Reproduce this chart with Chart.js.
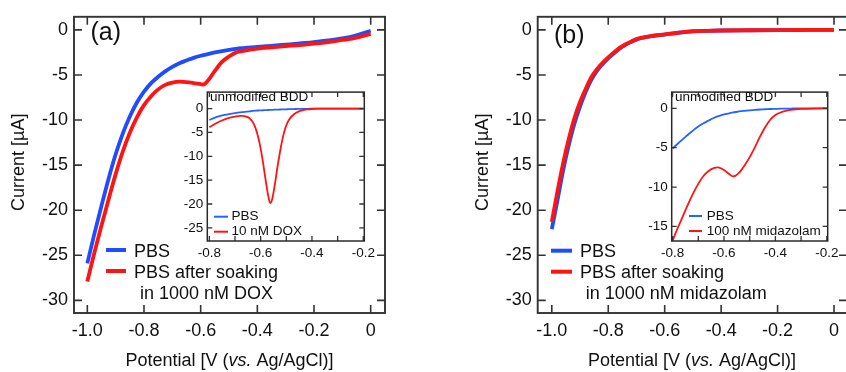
<!DOCTYPE html>
<html>
<head>
<meta charset="utf-8">
<script src="https://cdn.jsdelivr.net/npm/chart.js@4.4.1/dist/chart.umd.min.js"></script>
<style>
html,body{margin:0;padding:0;background:#fff;}
body{width:846px;height:372px;position:relative;overflow:hidden;}
canvas{position:absolute;}
</style>
</head>
<body>
<canvas id="mainA"></canvas>
<canvas id="mainB"></canvas>
<canvas id="insetA"></canvas>
<canvas id="insetB"></canvas>
<script>
// ---- data ----
// (a) main: PBS vs PBS after soaking in 1000 nM DOX
const potA=[-1.0,-0.975,-0.95,-0.925,-0.9,-0.875,-0.85,-0.825,-0.8,-0.775,-0.75,-0.725,-0.7,-0.675,-0.65,-0.625,-0.6,-0.59,-0.575,-0.55,-0.525,-0.5,-0.475,-0.45,-0.4,-0.35,-0.3,-0.25,-0.2,-0.15,-0.1,-0.05,0];
const pbsA=[-25.9,-22.6,-19.5,-16.5,-13.8,-11.5,-9.6,-8.05,-6.85,-5.9,-5.2,-4.6,-4.1,-3.7,-3.4,-3.1,-2.87,-2.8,-2.68,-2.5,-2.35,-2.22,-2.1,-2.02,-1.89,-1.77,-1.65,-1.5,-1.35,-1.17,-0.95,-0.6,-0.1];
const soakA=[-27.9,-24.7,-21.7,-18.8,-16.0,-13.5,-11.4,-9.7,-8.35,-7.35,-6.6,-6.1,-5.85,-5.75,-5.8,-5.9,-6.02,-6.06,-5.65,-4.55,-3.55,-2.95,-2.5,-2.32,-2.07,-1.93,-1.8,-1.68,-1.53,-1.35,-1.12,-0.85,-0.45];

// (a) inset: unmodified BDD, PBS vs 10 nM DOX
const potInA=[-0.8,-0.78,-0.76,-0.74,-0.72,-0.7,-0.68,-0.67,-0.66,-0.65,-0.64,-0.63,-0.62,-0.61,-0.6,-0.59,-0.58,-0.57,-0.563,-0.555,-0.545,-0.535,-0.525,-0.515,-0.505,-0.495,-0.485,-0.47,-0.455,-0.44,-0.42,-0.4,-0.38,-0.35,-0.3,-0.25,-0.2];
const pbsInA=[-2.4,-1.95,-1.6,-1.32,-1.12,-0.95,-0.8,-0.74,-0.68,-0.62,-0.56,-0.5,-0.45,-0.41,-0.38,-0.35,-0.32,-0.3,-0.28,-0.26,-0.24,-0.22,-0.2,-0.18,-0.16,-0.14,-0.12,-0.1,-0.08,-0.07,-0.05,-0.04,-0.03,-0.02,-0.01,0,0];
const doxInA=[-3.9,-3.3,-2.7,-2.25,-1.9,-1.68,-1.55,-1.55,-1.62,-1.8,-2.2,-2.9,-4.1,-5.9,-8.4,-11.6,-15.2,-18.4,-19.8,-19.0,-16.0,-12.4,-9.2,-6.4,-4.3,-2.9,-2.0,-1.2,-0.7,-0.4,-0.18,-0.08,-0.03,0,0,0,0];

// (b) main: PBS vs PBS after soaking in 1000 nM midazolam
const potB=[-1.0,-0.98,-0.96,-0.94,-0.92,-0.9,-0.88,-0.86,-0.84,-0.82,-0.8,-0.78,-0.76,-0.74,-0.72,-0.7,-0.68,-0.65,-0.6,-0.55,-0.5,-0.45,-0.4,-0.3,-0.2,-0.1,0];
const pbsB=[-22.1,-18.9,-15.6,-12.8,-10.4,-8.5,-6.9,-5.55,-4.55,-3.8,-3.15,-2.6,-2.08,-1.68,-1.36,-1.08,-0.9,-0.72,-0.52,-0.32,-0.17,-0.11,-0.07,-0.04,-0.02,-0.01,0];
const soakB=[-21.3,-17.9,-14.8,-12.1,-9.8,-8.0,-6.55,-5.25,-4.35,-3.65,-3.05,-2.5,-2.0,-1.62,-1.3,-1.03,-0.86,-0.68,-0.5,-0.3,-0.15,-0.1,-0.07,-0.04,-0.02,-0.01,0];

// (b) inset: unmodified BDD, PBS vs 100 nM midazolam
const potInB=[-0.8,-0.78,-0.76,-0.74,-0.72,-0.7,-0.68,-0.66,-0.64,-0.625,-0.61,-0.595,-0.58,-0.565,-0.555,-0.545,-0.535,-0.52,-0.5,-0.48,-0.46,-0.44,-0.42,-0.4,-0.38,-0.36,-0.34,-0.32,-0.3,-0.25,-0.2];
const pbsInB=[-5.1,-4.5,-3.9,-3.35,-2.8,-2.3,-1.9,-1.55,-1.22,-1.02,-0.86,-0.73,-0.62,-0.52,-0.46,-0.41,-0.36,-0.31,-0.24,-0.18,-0.14,-0.11,-0.08,-0.06,-0.04,-0.03,-0.02,-0.01,-0.01,0,0];
const midInB=[-16.8,-15.2,-13.7,-12.2,-10.8,-9.6,-8.6,-7.95,-7.6,-7.5,-7.65,-7.95,-8.35,-8.65,-8.55,-8.3,-7.95,-7.25,-6.2,-4.95,-3.6,-2.4,-1.45,-0.85,-0.52,-0.32,-0.2,-0.12,-0.07,-0.02,0];

// ticks
const mainXTicks=[-1.0,-0.8,-0.6,-0.4,-0.2,0];
const mainXLabels=['-1.0','-0.8','-0.6','-0.4','-0.2','0'];
const mainYTicks=[0,-5,-10,-15,-20,-25,-30];
const mainYLabels=['0','-5','-10','-15','-20','-25','-30'];
const insetXTicks=[-0.8,-0.6,-0.4,-0.2];
const insetXLabels=['-0.8','-0.6','-0.4','-0.2'];
const insetXMarks=[-0.8,-0.7,-0.6,-0.5,-0.4,-0.3,-0.2];
const insetAYTicks=[0,-5,-10,-15,-20,-25];
const insetAYLabels=['0','-5','-10','-15','-20','-25'];
const insetBYTicks=[0,-5,-10,-15];
const insetBYLabels=['0','-5','-10','-15'];

const FONT='"Liberation Sans", Arial, Helvetica, sans-serif';
const BLUE='#1f4cff',RED='#ff1414';
const BLUE2='#2463ff';

function drawText(c,t){
    const parts=typeof t.s==='string'?[[t.s,false]]:t.s;
    const fonts=parts.map(p=>(p[1]?'italic ':'')+t.size+'px '+FONT);
    let total=0;
    const widths=parts.map((p,i)=>{c.font=fonts[i];const w=c.measureText(p[0]).width;total+=w;return w;});
    c.save();
    c.translate(t.x,t.y);
    if(t.rot){c.rotate(-Math.PI/2);}
    c.textBaseline=t.rot?'middle':'alphabetic';
    c.textAlign='left';
    let x=t.center?-total/2:0;
    parts.forEach((p,i)=>{c.font=fonts[i];c.fillText(p[0],x,0);x+=widths[i];});
    c.restore();
}

function decor(cfg){
    return {
        id:'decor',
        beforeDatasetsDraw(chart){
            if(!cfg.fillBg){return;}
            const a=chart.chartArea,c=chart.ctx;
            c.save();
            c.fillStyle='#fff';
            c.fillRect(a.left,a.top,a.right-a.left,a.bottom-a.top);
            c.restore();
        },
        afterDraw(chart){
            const c=chart.ctx,a=chart.chartArea,xs=chart.scales.x,ys=chart.scales.y;
            c.save();
            c.strokeStyle=cfg.tickColor;
            c.lineWidth=cfg.tickWidth;
            c.beginPath();
            cfg.xMarks.forEach(v=>{
                const p=xs.getPixelForValue(v);
                c.moveTo(p,a.bottom);c.lineTo(p,a.bottom-cfg.tickLen);
                c.moveTo(p,a.top);c.lineTo(p,a.top+cfg.tickLen);
            });
            cfg.yMarks.forEach(v=>{
                const p=ys.getPixelForValue(v);
                c.moveTo(a.left,p);c.lineTo(a.left+cfg.tickLen,p);
                c.moveTo(a.right,p);c.lineTo(a.right-cfg.tickLen,p);
            });
            c.stroke();
            c.strokeStyle=cfg.frameColor;
            c.lineWidth=cfg.frameWidth;
            c.strokeRect(a.left,a.top,a.right-a.left,a.bottom-a.top);
            // everything below is placed in page coordinates
            c.translate(-cfg.ox,-cfg.oy);
            cfg.keys.forEach(k=>{
                c.strokeStyle=k.color;c.lineWidth=k.w;
                c.beginPath();c.moveTo(k.x1,k.y);c.lineTo(k.x2,k.y);c.stroke();
            });
            c.fillStyle='#111';
            cfg.texts.forEach(t=>drawText(c,t));
            c.restore();
        }
    };
}

function makeChart(p){
    const cv=document.getElementById(p.id);
    cv.width=p.box.w;cv.height=p.box.h;
    cv.style.left=p.box.x+'px';cv.style.top=p.box.y+'px';
    const left=p.area.left-p.box.x,top=p.area.top-p.box.y;
    const right=p.area.right-p.box.x,bottom=p.area.bottom-p.box.y;
    const tickFont={family:FONT,size:p.fs};
    return new Chart(cv,{
        type:'scatter',
        data:{datasets:p.sets.map(s=>({
            data:s.x.map((v,i)=>({x:v,y:s.y[i]})),
            showLine:true,fill:false,
            borderColor:s.color,borderWidth:p.lw,
            pointRadius:0,cubicInterpolationMode:'monotone',
            order:s.order
        }))},
        options:{
            responsive:false,animation:false,events:[],
            layout:{padding:{left:0,top:top,right:p.box.w-right,bottom:0}},
            plugins:{legend:{display:false},tooltip:{enabled:false}},
            scales:{
                x:{
                    type:'linear',min:p.xRange[0],max:p.xRange[1],
                    grid:{display:false,drawTicks:false},border:{display:false},
                    afterFit:s=>{s.height=p.box.h-bottom;},
                    afterBuildTicks:s=>{s.ticks=p.xTicks.map(v=>({value:v}));},
                    ticks:{autoSkip:false,maxRotation:0,minRotation:0,padding:p.xPad,color:'#111',font:tickFont,
                        callback:(v,i)=>p.xLabels[i]}
                },
                y:{
                    type:'linear',min:p.yRange[0],max:p.yRange[1],
                    grid:{display:false,drawTicks:false},border:{display:false},
                    afterFit:s=>{s.width=left;},
                    afterBuildTicks:s=>{s.ticks=p.yTicks.map(v=>({value:v}));},
                    ticks:{autoSkip:false,padding:p.yPad,color:'#111',font:tickFont,
                        callback:(v,i)=>p.yLabels[i]}
                }
            }
        },
        plugins:[decor(Object.assign({ox:p.box.x,oy:p.box.y},p.decor))]
    });
}

const mainDecor={tickColor:'#333',tickWidth:1.6,tickLen:8,frameColor:'#333',frameWidth:1.9};
const insetDecor={tickColor:'#333',tickWidth:1.3,tickLen:5,frameColor:'#2a2a2a',frameWidth:1.5,fillBg:true};
const xTitleParts=[['Potential [V (',false],['vs.',true],[' Ag/AgCl)]',false]];

makeChart({
    id:'mainA',box:{x:0,y:0,w:423,h:372},area:{left:74,top:11.5,right:385,bottom:313},
    xRange:[-1.047,0.0505],yRange:[-31.4,1.45],
    xTicks:mainXTicks,xLabels:mainXLabels,yTicks:mainYTicks,yLabels:mainYLabels,
    fs:18,xPad:7,yPad:6,lw:3.8,
    sets:[{x:potA,y:pbsA,color:BLUE,order:2},{x:potA,y:soakA,color:RED,order:1}],
    decor:Object.assign({},mainDecor,{
        xMarks:mainXTicks,yMarks:mainYTicks,
        keys:[{color:BLUE,w:4,x1:106,x2:126,y:250},{color:RED,w:4,x1:106,x2:126,y:271}],
        texts:[
            {s:'(a)',x:90.5,y:40,size:25},
            {s:'PBS',x:134,y:257,size:18},
            {s:'PBS after soaking',x:134,y:278,size:18},
            {s:'in 1000 nM DOX',x:140,y:298.5,size:18},
            {s:'Current [µA]',x:19,y:162.3,size:18,rot:true,center:true},
            {s:xTitleParts,x:229.5,y:366,size:18,center:true}
        ]
    })
});

makeChart({
    id:'mainB',box:{x:423,y:0,w:430,h:372},area:{left:537.7,top:11.5,right:847,bottom:313},
    xRange:[-1.05,0.046],yRange:[-31.4,1.45],
    xTicks:mainXTicks,xLabels:mainXLabels,yTicks:mainYTicks,yLabels:mainYLabels,
    fs:18,xPad:7,yPad:6,lw:3.8,
    sets:[{x:potB,y:pbsB,color:BLUE,order:2},{x:potB,y:soakB,color:RED,order:1}],
    decor:Object.assign({},mainDecor,{
        xMarks:mainXTicks,yMarks:mainYTicks,
        keys:[{color:BLUE,w:4,x1:551,x2:572,y:250.7},{color:RED,w:4,x1:551,x2:572,y:271.7}],
        texts:[
            {s:'(b)',x:554,y:43,size:25},
            {s:'PBS',x:580,y:257,size:18},
            {s:'PBS after soaking',x:580,y:278,size:18},
            {s:'in 1000 nM midazolam',x:585.7,y:298.5,size:18},
            {s:'Current [µA]',x:482.7,y:162.3,size:18,rot:true,center:true},
            {s:xTitleParts,x:692,y:366,size:18,center:true}
        ]
    })
});

makeChart({
    id:'insetA',box:{x:160,y:80,w:220,h:185},area:{left:207.3,top:85,right:364.3,bottom:241},
    xRange:[-0.808,-0.196],yRange:[-27.75,3.45],
    xTicks:insetXTicks,xLabels:insetXLabels,yTicks:insetAYTicks,yLabels:insetAYLabels,
    fs:13.5,xPad:4.5,yPad:4,lw:1.8,
    sets:[{x:potInA,y:pbsInA,color:BLUE2,order:2},{x:potInA,y:doxInA,color:RED,order:1}],
    decor:Object.assign({},insetDecor,{
        xMarks:insetXMarks,yMarks:insetAYTicks,
        keys:[{color:BLUE2,w:2,x1:214,x2:228,y:216.7},{color:RED,w:2,x1:214,x2:228,y:231.7}],
        texts:[
            {s:'unmodified BDD',x:210,y:100.5,size:13.5},
            {s:'PBS',x:231.5,y:220,size:13.5},
            {s:'10 nM DOX',x:231.5,y:235,size:13.5}
        ]
    })
});

makeChart({
    id:'insetB',box:{x:625,y:80,w:221,h:185},area:{left:671.7,top:85,right:827.7,bottom:241},
    xRange:[-0.8035,-0.1965],yRange:[-16.86,2.07],
    xTicks:insetXTicks,xLabels:insetXLabels,yTicks:insetBYTicks,yLabels:insetBYLabels,
    fs:13.5,xPad:4.5,yPad:4,lw:1.8,
    sets:[{x:potInB,y:pbsInB,color:BLUE2,order:2},{x:potInB,y:midInB,color:RED,order:1}],
    decor:Object.assign({},insetDecor,{
        xMarks:insetXMarks,yMarks:insetBYTicks,
        keys:[{color:BLUE2,w:2,x1:689,x2:702,y:216},{color:RED,w:2,x1:689,x2:702,y:231}],
        texts:[
            {s:'unmodified BDD',x:675,y:100.5,size:13.5},
            {s:'PBS',x:706.7,y:220,size:13.5},
            {s:'100 nM midazolam',x:706.7,y:235,size:13.5}
        ]
    })
});
</script>
</body>
</html>
